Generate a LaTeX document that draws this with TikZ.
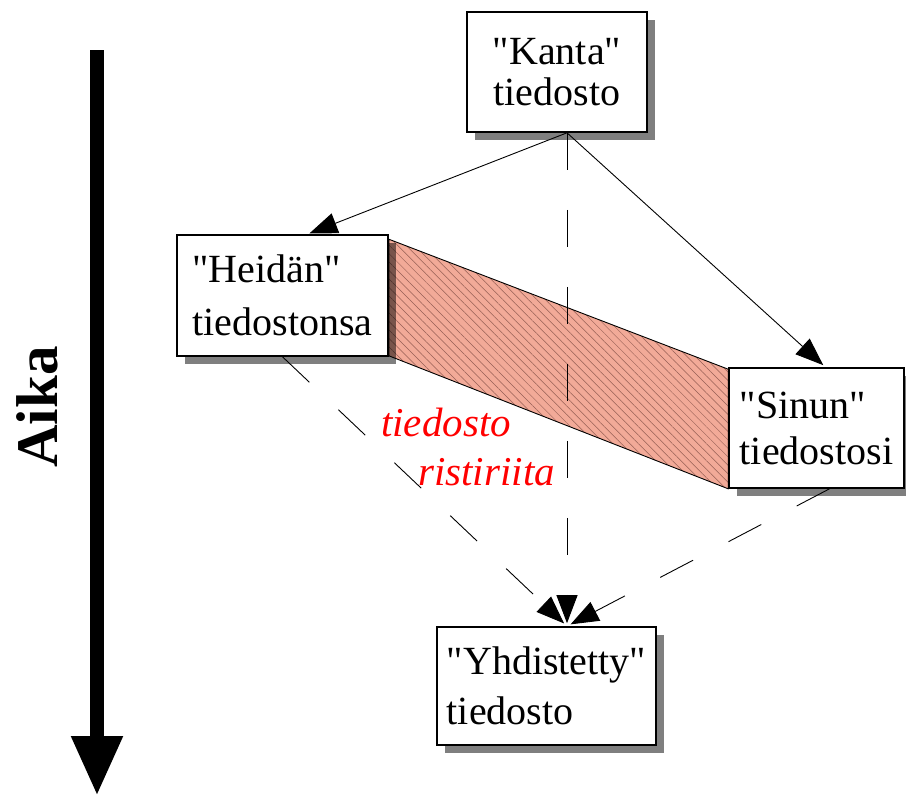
\documentclass[tikz,border=0pt]{standalone}
\usepackage{fontspec}
\setmainfont{Liberation Serif}[Ligatures=TeXOff]
\usetikzlibrary{arrows.meta,shadows,patterns.meta}
\definecolor{bandfill}{RGB}{242,170,152}
\definecolor{hatch}{RGB}{150,95,85}
\pgfdeclarelayer{background}
\pgfsetlayers{background,main}
\tikzset{
  filebox/.style={draw=black, line width=1.6pt, fill=white, inner sep=0pt,
    drop shadow={shadow xshift=8pt, shadow yshift=-8pt, fill=black, opacity=0.5}},
  conn/.style={line width=0.9pt, -{Triangle[length=28pt,width=21pt]}},
  dconn/.style={conn, dash pattern=on 37pt off 40pt},
  conflict/.style={text=red, font=\itshape\fontsize{41}{41}\selectfont, inner sep=0pt},
}
\begin{document}
\begin{tikzpicture}[x=1pt, y=-1pt]
\useasboundingbox (0,0) rectangle (906,798);

% time axis
\coordinate (tstart) at (97,50);
\coordinate (tend) at (97,796);
\draw[line width=14pt, -{Triangle[length=60pt,width=48pt]}] (tstart) -- (tend);
\node[rotate=90, anchor=base, inner sep=0pt, font=\bfseries\fontsize{59}{59}\selectfont] (aika) at (57,407) {Aika};

% file boxes
\node[filebox, minimum width=180pt, minimum height=120pt, align=center,
      font=\fontsize{40}{41}\selectfont] (kanta) at (557,72) {"Kanta"\\tiedosto};
\node[filebox, minimum width=211pt, minimum height=121pt, align=left,
      font=\fontsize{40}{53}\selectfont] (heidan) at (282.5,295.5) {"Heidän"\\tiedostonsa};
\node[filebox, minimum width=175pt, minimum height=120pt, align=left,
      font=\fontsize{40}{46}\selectfont] (sinun) at (816.5,428) {"Sinun"\\tiedostosi};
\node[filebox, minimum width=219pt, minimum height=118pt, align=left,
      font=\fontsize{40}{50}\selectfont] (yhd) at (546.5,686) {"Yhdistetty"\\tiedosto};

% conflict label
\node[conflict, anchor=base west] (c1) at (381,436) {tiedosto};
\node[conflict, anchor=base west] (c2) at (418,485) {ristiriita};

\begin{pgfonlayer}{background}
  % conflict band
  \draw[line width=0.9pt, preaction={fill=bandfill},
        pattern={Lines[angle=-45,distance=6pt,line width=0.5pt]}, pattern color=hatch]
    ([yshift=-5pt]heidan.north east) -- ([yshift=-2pt]sinun.north west)
    -- (sinun.south west) -- ([yshift=1pt]heidan.south east) -- cycle;
  % connectors
  \draw[conn, shorten >=2pt] ([xshift=10pt]kanta.south) -- ([xshift=25pt]heidan.north);
  \draw[conn, shorten >=3pt] ([xshift=10pt]kanta.south) -- ([xshift=9pt]sinun.north);
  \draw[dconn, shorten >=3pt] ([xshift=10pt]kanta.south) -- ([xshift=20.5pt]yhd.north);
  \draw[dconn, shorten >=4pt] (heidan.south) -- ([xshift=20.5pt]yhd.north);
  \draw[dconn, shorten >=4pt] ([xshift=13pt]sinun.south) -- ([xshift=20.5pt]yhd.north);
\end{pgfonlayer}
\end{tikzpicture}
\end{document}
